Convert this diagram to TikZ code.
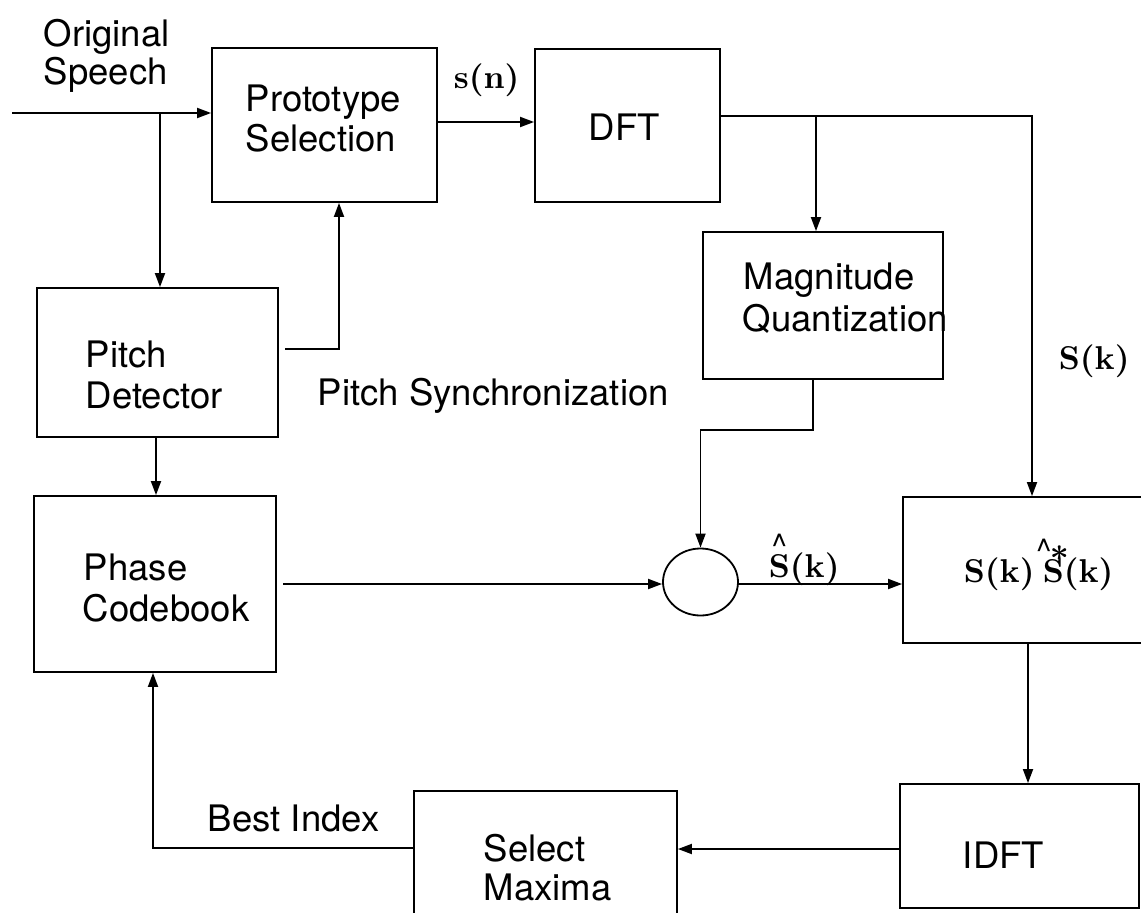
\documentclass[tikz,border=0pt]{standalone}
\usepackage{fontspec}
\newfontfamily\helv{TeX Gyre Heros}
\newfontfamily\cmb{lmroman10-bold}[Extension=.otf]
% caret accent set above a capital S
\newcommand\caret{{\helv\char"5E}}
\newcommand\hatS[1][0.08em]{\makebox[0pt][l]{\kern#1\raisebox{0.58em}{\caret}}S}
\usetikzlibrary{arrows.meta,shapes.geometric}
\begin{document}
\begin{tikzpicture}[x=1pt,y=-1pt,
  line width=1.8pt,
  >={Triangle[length=14pt,width=10pt]},
  blk/.style={draw, rectangle, inner sep=0pt},
  sum/.style={draw, ellipse, inner sep=0pt, minimum width=75pt, minimum height=67pt},
  lbl/.style={anchor=base west, inner sep=0pt, font=\helv\fontsize{36.5}{40}\selectfont},
  mlbl/.style={anchor=base west, inner sep=0pt, font=\cmb\fontsize{33}{38}\selectfont}
]
\useasboundingbox (0,0) rectangle (1141,913);

% processing blocks
\node[blk, minimum width=225pt, minimum height=154pt] (proto) at (324.5,125) {};
\node[blk, minimum width=185pt, minimum height=153pt] (dft)   at (627.5,125.5) {};
\node[blk, minimum width=240pt, minimum height=147pt] (mag)   at (823,305.5) {};
\node[blk, minimum width=241pt, minimum height=149pt] (pitch) at (157.5,362.5) {};
\node[blk, minimum width=242pt, minimum height=176pt] (phase) at (155,584) {};
\node[blk, minimum width=250pt, minimum height=146pt] (corr)  at (1028,570) {};
\node[blk, minimum width=239pt, minimum height=124pt] (idft)  at (1019.5,846) {};
\node[blk, minimum width=263pt, minimum height=140pt] (sel)   at (545.5,861) {};
\node[sum] (mix) at (700.5,582) {};

% routing points
\coordinate (src)  at (12,113);
\coordinate (tap)  at (160,113);
\coordinate (sn)   at (437,122);
\coordinate (fork) at (1032,116);
\coordinate (tapm) at (816,116);
\coordinate (psA)  at (285,349);
\coordinate (psB)  at (339,349);
\coordinate (pp)   at (156,460);
\coordinate (phA)  at (283,584);
\coordinate (mqA)  at (813,430);
\coordinate (prod) at (1028,700);
\coordinate (back) at (900,849);
\coordinate (bi)   at (153,848);

% signal flow
\draw[->] (src) -- (src -| proto.west);
\draw[->] (tap) -- (tap |- pitch.north);
\draw[->] (sn) -- (sn -| dft.west);
\draw[->] (fork -| dft.east) -- (fork) -- (fork |- corr.north);
\draw[->] (tapm) -- (tapm |- mag.north);
\draw[->] (psA) -- (psB) -- (psB |- proto.south);
\draw[->] (pp |- pitch.south) -- (pp |- phase.north);
\draw[->] (phA) -- (phA -| mix.west);
\draw[->] (mqA |- mag.south) -- (mqA) -| (mix.north);
\draw[->] (phA -| mix.east) -- (phA -| corr.west);
\draw[->] (prod |- corr.south) -- (prod |- idft.north);
\draw[->] (idft.west |- back) -- (back -| sel.east);
\draw[->] (bi -| sel.west) -- (bi) -- (bi |- phase.south);

% block and signal labels
\node[lbl] (t-orig1)  at (43,46)   {Original};
\node[lbl] (t-orig2)  at (43,84)   {Speech};
\node[lbl] (t-proto1) at (245,111) {Prototype};
\node[lbl] (t-proto2) at (245,151) {Selection};
\node[lbl] (t-dft)    at (588,140) {DFT};
\node[lbl] (t-mag1)   at (743,289) {Magnitude};
\node[lbl] (t-mag2)   at (742,331) {Quantization};
\node[lbl] (t-pd1)    at (85,367)  {Pitch};
\node[lbl] (t-pd2)    at (85,408)  {Detector};
\node[lbl] (t-sync)   at (317,405) {Pitch Synchronization};
\node[lbl] (t-ph1)    at (83,580)  {Phase};
\node[lbl] (t-ph2)    at (82,621)  {Codebook};
\node[lbl] (t-best)   at (207,831) {Best Index};
\node[lbl] (t-sel1)   at (483,861) {Select};
\node[lbl] (t-sel2)   at (483,900) {Maxima};
\node[lbl] (t-idft)   at (962,868) {IDFT};
\node[mlbl] (t-sn)    at (453,88)  {s(n)};
\node[mlbl] (t-sk)    at (1058,369) {S(k)};
\node[mlbl] (t-shat)  at (768,577) {\hatS(k)};
\node[mlbl] (t-prod)  at (963,582) {S(k)\kern0.25em\hatS[-0.2em]\makebox[0pt][r]{\raisebox{0.36em}{*}\kern-0.15em}(k)};
\end{tikzpicture}
\end{document}
